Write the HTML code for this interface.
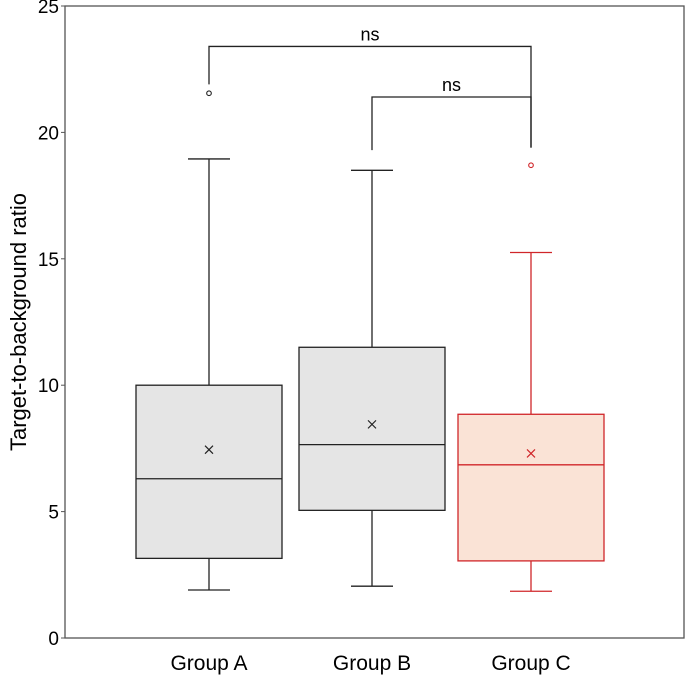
<!DOCTYPE html>
<html><head><meta charset="utf-8"><style>
body{margin:0;background:#fff}
svg text{font-family:"Liberation Sans",sans-serif}
</style></head><body>
<svg id="chart" width="685" height="678" xmlns="http://www.w3.org/2000/svg"></svg>
<script>
const categories=["Group A","Group B","Group C"];
const mins=[1.9,2.05,1.85];
const q1s=[3.15,5.05,3.05];
const medians=[6.3,7.65,6.85];
const q3s=[10.0,11.5,8.85];
const maxs=[18.95,18.5,15.25];
const means=[7.45,8.45,7.3];
const outliers=[[21.55],[],[18.7]];
const yTicks=[0,5,10,15,20,25];
const brackets=[[0,2,23.4,21.9,19.4,"ns"],[1,2,21.4,19.3,19.4,"ns"]];
const svg=document.getElementById('chart');
const NS='http://www.w3.org/2000/svg';
const L=65,R=684,T=6,B=638;
function y(v){return B-(v/25)*(B-T);}
function x(i){return [209,372,531][i];}
function mk(tag,attrs,name,parent){const e=document.createElementNS(NS,tag);for(const k in attrs)e.setAttribute(k,attrs[k]);


(parent||svg).appendChild(e);return e;}
mk('rect',{x:L,y:T,width:R-L,height:B-T,fill:'none',stroke:'#555','stroke-width':1.3},'plot-frame');
yTicks.forEach(t=>{mk('line',{x1:L-4,x2:L,y1:y(t),y2:y(t),stroke:'#555'},'y-tick');
const tx=mk('text',{x:L-6,y:y(t)+7,'text-anchor':'end','font-size':19},'y-tick-label');tx.textContent=t;});
const yt=mk('text',{x:0,y:0,'font-size':22,'text-anchor':'middle',transform:'translate(26,322) rotate(-90)'},'y-axis-title');yt.textContent='Target-to-background ratio';
categories.forEach((c,i)=>{
const red=i===2,col=red?'#d0262a':'#222',fill=red?'#fae3d6':'#e5e5e5';
const cx=x(i),hw=73,cw=21;
const g=mk('g',{},'box-'+c.toLowerCase().replace(' ','-'));
mk('line',{x1:cx,x2:cx,y1:y(mins[i]),y2:y(q1s[i]),stroke:col,'stroke-width':1.3},'lower-whisker',g);
mk('line',{x1:cx,x2:cx,y1:y(q3s[i]),y2:y(maxs[i]),stroke:col,'stroke-width':1.3},'upper-whisker',g);
mk('line',{x1:cx-cw,x2:cx+cw,y1:y(mins[i]),y2:y(mins[i]),stroke:col,'stroke-width':1.3},'min-cap',g);
mk('line',{x1:cx-cw,x2:cx+cw,y1:y(maxs[i]),y2:y(maxs[i]),stroke:col,'stroke-width':1.3},'max-cap',g);
mk('rect',{x:cx-hw,y:y(q3s[i]),width:2*hw,height:y(q1s[i])-y(q3s[i]),fill:fill,stroke:col,'stroke-width':1.3},'iqr-box',g);
mk('line',{x1:cx-hw,x2:cx+hw,y1:y(medians[i]),y2:y(medians[i]),stroke:col,'stroke-width':1.3},'median-line',g);
const my=y(means[i]);
mk('path',{d:`M${cx-4},${my-4}L${cx+4},${my+4}M${cx-4},${my+4}L${cx+4},${my-4}`,stroke:col,'stroke-width':1.2},'mean-marker',g);
outliers[i].forEach(o=>mk('circle',{cx:cx,cy:y(o),r:2.3,fill:'none',stroke:col,'stroke-width':1.1},'outlier',g));
const lb=mk('text',{x:cx,y:670,'text-anchor':'middle','font-size':21},'x-tick-label');lb.textContent=c;
});
brackets.forEach(b=>{const [a,c,top,ea,ec,lab]=b;
mk('path',{d:`M${x(a)},${y(ea)}V${y(top)}H${x(c)}V${y(ec)}`,fill:'none',stroke:'#222','stroke-width':1.3},'significance-bracket');
const t=mk('text',{x:(x(a)+x(c))/2,y:y(top)-6,'text-anchor':'middle','font-size':18},'significance-label');t.textContent=lab;});
</script>
</body></html>
